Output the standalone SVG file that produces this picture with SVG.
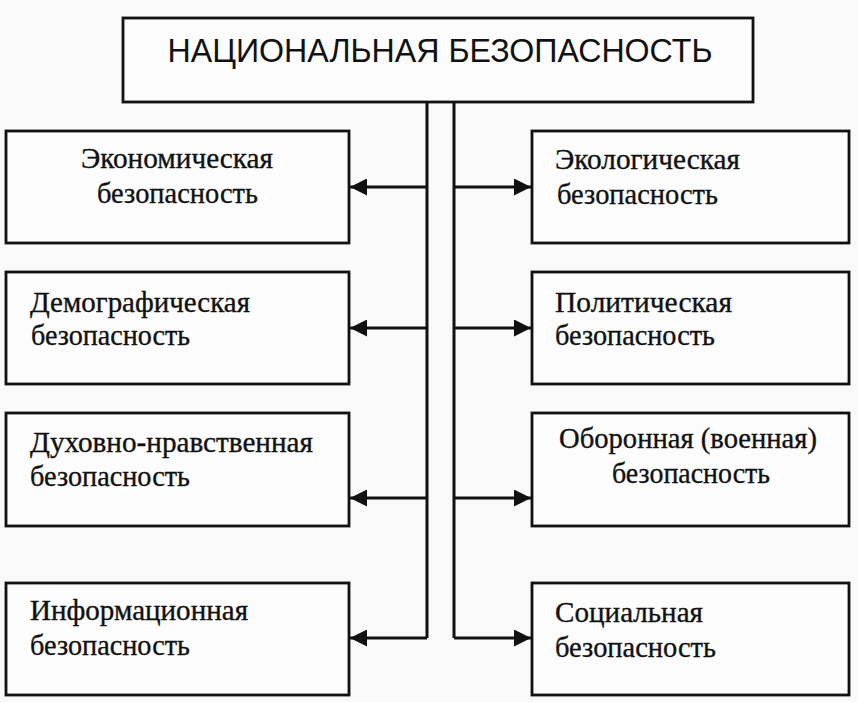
<svg xmlns="http://www.w3.org/2000/svg" width="858" height="702" viewBox="0 0 858 702">
<style>
.box{fill:#fcfcfc;stroke:#111;stroke-width:2.8}
.t{font-family:"Liberation Serif","Times New Roman",serif;font-size:29px;fill:#111;stroke:#111;stroke-width:0.35}
.title{font-family:"Liberation Sans",Arial,sans-serif;font-size:33px;fill:#111}
.ln{fill:none;stroke:#111;stroke-width:3}
</style>
<defs>
<marker id="ah" markerWidth="17" markerHeight="17" viewBox="0 0 17 17" refX="17" refY="8.5" orient="auto" markerUnits="userSpaceOnUse">
<path d="M0,0 L17,8.5 L0,17 Z" fill="#111"/>
</marker>
</defs>
<rect width="858" height="702" fill="#f9f9f9"/>
<g id="connectors">
<path class="ln" d="M427,102 V638"/>
<path class="ln" d="M454,102 V638"/>
<path class="ln" d="M427,187 H350" marker-end="url(#ah)"/>
<path class="ln" d="M427,328 H350" marker-end="url(#ah)"/>
<path class="ln" d="M427,498 H350" marker-end="url(#ah)"/>
<path class="ln" d="M427,638 H350" marker-end="url(#ah)"/>
<path class="ln" d="M454,187 H531" marker-end="url(#ah)"/>
<path class="ln" d="M454,328 H531" marker-end="url(#ah)"/>
<path class="ln" d="M454,498 H531" marker-end="url(#ah)"/>
<path class="ln" d="M454,638 H531" marker-end="url(#ah)"/>
</g>
<g id="national">
<rect class="box" x="123" y="18" width="630" height="84"/>
<text class="title" x="440" y="62" text-anchor="middle" textLength="545" lengthAdjust="spacingAndGlyphs">НАЦИОНАЛЬНАЯ БЕЗОПАСНОСТЬ</text>
</g>
<g id="economic">
<rect class="box" x="6" y="131" width="343" height="112"/>
<text class="t" x="81" y="168" textLength="192" lengthAdjust="spacingAndGlyphs">Экономическая</text>
<text class="t" x="97" y="203" textLength="161" lengthAdjust="spacingAndGlyphs">безопасность</text>
</g>
<g id="demographic">
<rect class="box" x="6" y="272" width="343" height="112"/>
<text class="t" x="30" y="312" textLength="220" lengthAdjust="spacingAndGlyphs">Демографическая</text>
<text class="t" x="31" y="345" textLength="159" lengthAdjust="spacingAndGlyphs">безопасность</text>
</g>
<g id="spiritual">
<rect class="box" x="6" y="413" width="343" height="113"/>
<text class="t" x="30" y="452" textLength="283" lengthAdjust="spacingAndGlyphs">Духовно-нравственная</text>
<text class="t" x="30" y="486" textLength="160" lengthAdjust="spacingAndGlyphs">безопасность</text>
</g>
<g id="information">
<rect class="box" x="6" y="583" width="343" height="112"/>
<text class="t" x="30" y="620" textLength="218" lengthAdjust="spacingAndGlyphs">Информационная</text>
<text class="t" x="30" y="655" textLength="160" lengthAdjust="spacingAndGlyphs">безопасность</text>
</g>
<g id="ecological">
<rect class="box" x="532" y="131" width="317" height="112"/>
<text class="t" x="555" y="169" textLength="185" lengthAdjust="spacingAndGlyphs">Экологическая</text>
<text class="t" x="557" y="204" textLength="161" lengthAdjust="spacingAndGlyphs">безопасность</text>
</g>
<g id="political">
<rect class="box" x="532" y="272" width="317" height="112"/>
<text class="t" x="555" y="312" textLength="177" lengthAdjust="spacingAndGlyphs">Политическая</text>
<text class="t" x="555" y="345" textLength="160" lengthAdjust="spacingAndGlyphs">безопасность</text>
</g>
<g id="defense">
<rect class="box" x="532" y="413" width="317" height="113"/>
<text class="t" x="559" y="448" textLength="258" lengthAdjust="spacingAndGlyphs">Оборонная (военная)</text>
<text class="t" x="612" y="483" textLength="158" lengthAdjust="spacingAndGlyphs">безопасность</text>
</g>
<g id="social">
<rect class="box" x="532" y="583" width="317" height="112"/>
<text class="t" x="555" y="622" textLength="148" lengthAdjust="spacingAndGlyphs">Социальная</text>
<text class="t" x="555" y="657" textLength="161" lengthAdjust="spacingAndGlyphs">безопасность</text>
</g>
</svg>
